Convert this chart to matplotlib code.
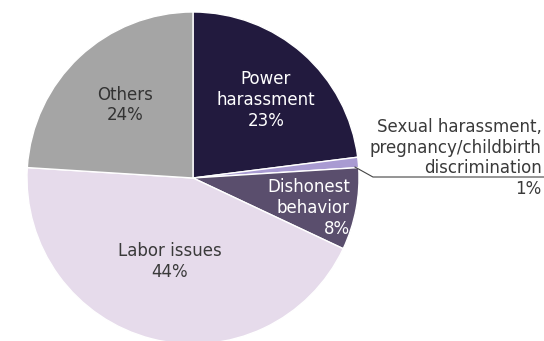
import matplotlib
matplotlib.use('Agg')
import matplotlib.pyplot as plt

# shares of consultations by type (%)
labels = ['Power\nharassment', 'Sexual harassment,\npregnancy/childbirth\ndiscrimination',
          'Dishonest\nbehavior', 'Labor issues', 'Others']
shares = [23, 1, 8, 44, 24]
colors = ['#221a3e', '#a99bd2', '#5a4e6d', '#e6dbeb', '#a5a5a5']
text_colors = ['white', '#3a3a3a', 'white', '#3a3a3a', '#333333']

fig = plt.figure(figsize=(5.44, 3.41), dpi=100)
# place the pie so its centre and radius match the reference
ax = fig.add_axes([27 / 544, -3 / 341, 332 / 544, 332 / 341])

wedges, _ = ax.pie(shares, colors=colors, startangle=90, counterclock=False,
                   radius=1, wedgeprops=dict(edgecolor='white', linewidth=1))
ax.set_xlim(-1, 1)
ax.set_ylim(-1, 1)
ax.set_aspect('equal')
ax.axis('off')

# label positions (data coords, pie radius = 1)
pos = [(0.44, 0.47, 'center'), (2.10, 0.12, 'right'), (0.945, -0.18, 'right'),
       (-0.14, -0.505, 'center'), (-0.41, 0.44, 'center')]

for i, (x, y, ha) in enumerate(pos):
    ax.text(x, y, labels[i] + '\n' + str(shares[i]) + '%', ha=ha, va='center',
            multialignment=ha, fontsize=12, color=text_colors[i],
            linespacing=1.2, clip_on=False)

# leader line for the tiny slice
ax.plot([0.976, 1.084, 2.2], [0.066, 0.006, 0.006], color='#444444',
        linewidth=0.8, clip_on=False)

plt.savefig('out.png', dpi=100)
